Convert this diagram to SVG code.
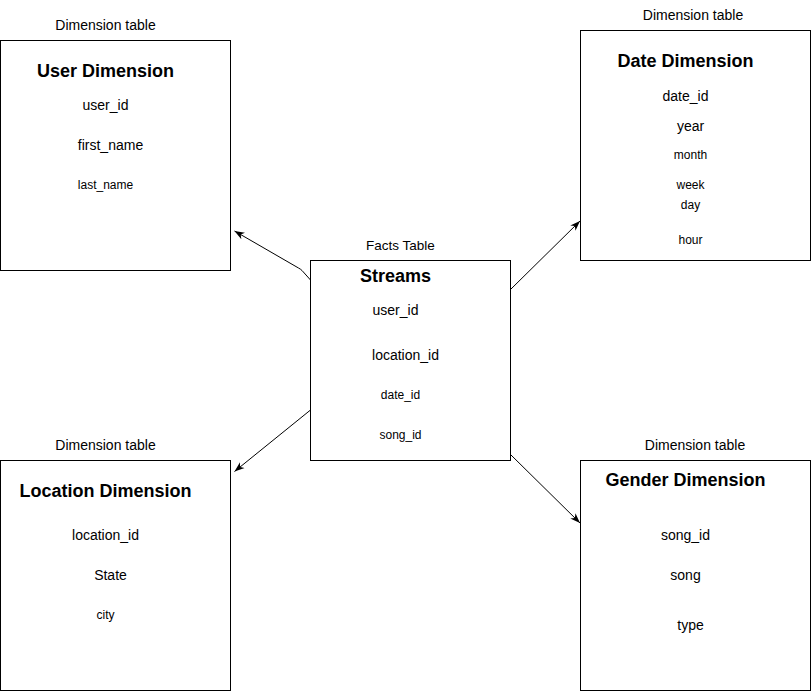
<svg xmlns="http://www.w3.org/2000/svg" width="811" height="691" viewBox="0 0 811 691">
<style>
text{font-family:"Liberation Sans",Arial,sans-serif;fill:#000;text-anchor:middle;dominant-baseline:central}
.box{fill:#fff;stroke:#000;stroke-width:1}
.h{font-weight:bold;font-size:18px}
.m{font-size:14px}
.s{font-size:12px}
.lbl{font-size:14px}
.edge{fill:none;stroke:#000;stroke-width:1;stroke-linejoin:round}
</style>
<defs>
<marker id="arr" viewBox="0 0 10 10" refX="10" refY="5" markerWidth="10" markerHeight="10" markerUnits="userSpaceOnUse" orient="auto">
<path d="M0,1.3 L10,5 L0,8.7 L2.8,5 z" fill="#000"/>
</marker>
</defs>
<rect width="811" height="691" fill="#fff"/>
<g id="connectors">
<path class="edge" d="M310.5,280 L302,270.5 Q300.5,269 298.5,268 L234.5,231" marker-end="url(#arr)"/>
<path class="edge" d="M511,289 L580,221" marker-end="url(#arr)"/>
<path class="edge" d="M310.5,410 L234.5,471.5" marker-end="url(#arr)"/>
<path class="edge" d="M511,455 L580,523" marker-end="url(#arr)"/>
</g>
<g id="user-dimension">
<text class="lbl" x="105.5" y="25">Dimension table</text>
<rect class="box" x="0.5" y="40.5" width="230" height="230"/>
<text class="h" x="105.5" y="71">User Dimension</text>
<text class="m" x="105.5" y="105">user_id</text>
<text class="m" x="110.5" y="145">first_name</text>
<text class="s" x="105.5" y="185">last_name</text>
</g>
<g id="date-dimension">
<text class="lbl" x="693" y="15">Dimension table</text>
<rect class="box" x="580.5" y="30.5" width="230" height="230"/>
<text class="h" x="685.5" y="61">Date Dimension</text>
<text class="m" x="685.5" y="96">date_id</text>
<text class="m" x="690.5" y="126">year</text>
<text class="s" x="690.5" y="155">month</text>
<text class="s" x="690.5" y="185">week</text>
<text class="s" x="690.5" y="205">day</text>
<text class="s" x="690.5" y="240">hour</text>
</g>
<g id="streams">
<text class="lbl" x="400.5" y="245" style="font-size:13.5px">Facts Table</text>
<rect class="box" x="310.5" y="260.5" width="200" height="200"/>
<text class="h" x="395.5" y="276">Streams</text>
<text class="m" x="395.5" y="310">user_id</text>
<text class="m" x="405.5" y="355">location_id</text>
<text class="s" x="400.5" y="395">date_id</text>
<text class="s" x="400.5" y="435">song_id</text>
</g>
<g id="location-dimension">
<text class="lbl" x="105.5" y="445">Dimension table</text>
<rect class="box" x="0.5" y="460.5" width="230" height="230"/>
<text class="h" x="105.5" y="491">Location Dimension</text>
<text class="m" x="105.5" y="535">location_id</text>
<text class="m" x="110.5" y="575">State</text>
<text class="s" x="105.5" y="615">city</text>
</g>
<g id="gender-dimension">
<text class="lbl" x="695" y="445">Dimension table</text>
<rect class="box" x="580.5" y="460.5" width="230" height="230"/>
<text class="h" x="685.5" y="480">Gender Dimension</text>
<text class="m" x="685.5" y="535">song_id</text>
<text class="m" x="685.5" y="575">song</text>
<text class="m" x="690.5" y="625">type</text>
</g>
</svg>
